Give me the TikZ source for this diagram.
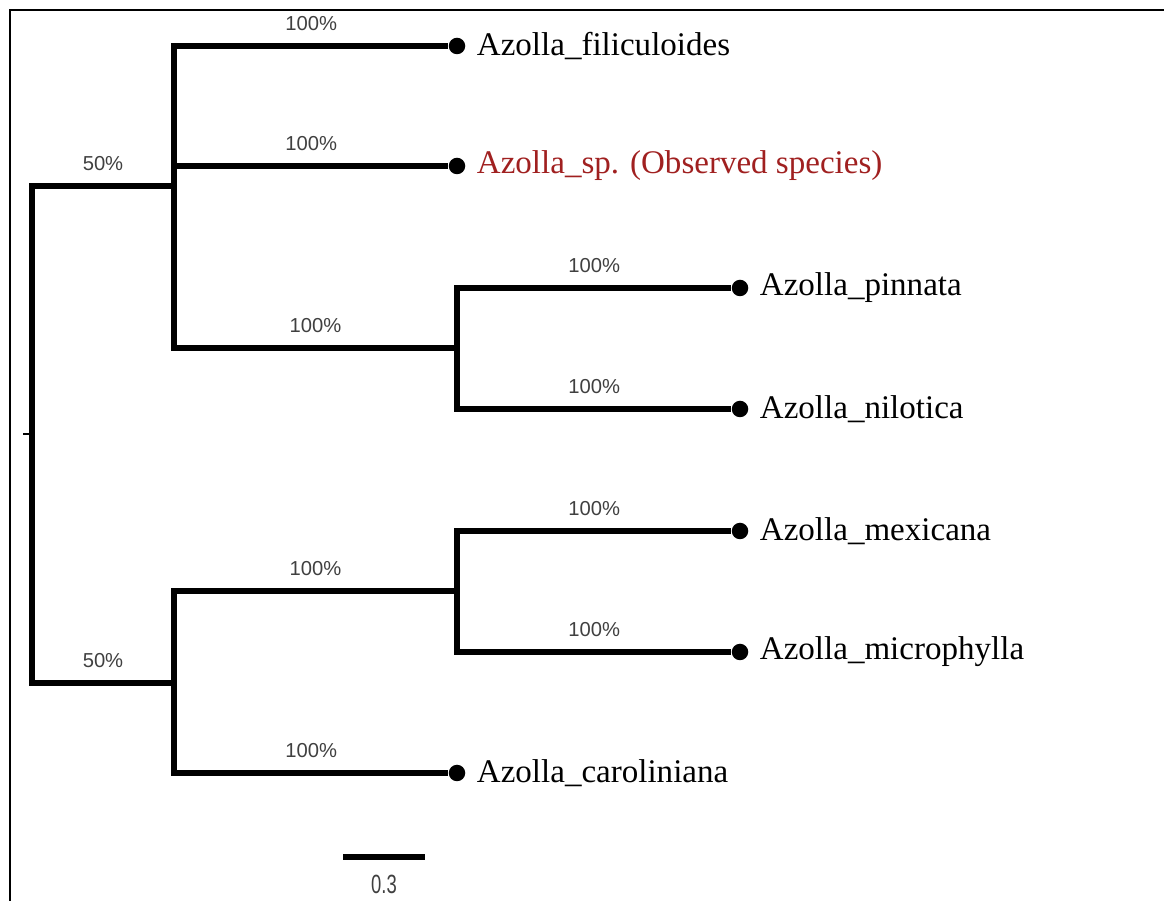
\documentclass[tikz,border=0pt]{standalone}
\usepackage{fontspec}
\setmainfont{Liberation Serif}
\setsansfont{Liberation Sans}
\usetikzlibrary{positioning}

\definecolor{obsred}{RGB}{160,32,32}

\begin{document}
\begin{tikzpicture}[x=0.02cm,y=-0.02cm,
  branch/.style={line width=2.9pt,line join=miter},
  leaf/.style={circle,fill=black,inner sep=0pt,minimum size=0.33cm},
  taxon/.style={inner sep=0pt,font=\fontsize{18.8}{22}\selectfont},
  boot/.style={above=0.25cm,inner sep=0pt,text=black!75,font=\sffamily\fontsize{11.5}{13}\selectfont},
  frameline/.style={line width=1.1pt}]
\useasboundingbox (0,0) rectangle (1164,901);

\draw[frameline] (1164,10) -- (10,10) -- (10,901);

% internal nodes
\coordinate (root) at (32,434);
\coordinate (upper) at (174,186);
\coordinate (lower) at (174,683);
\coordinate (pn) at (457,348);
\coordinate (mm) at (457,591);

% leaves
\foreach \n/\y in {fil/46,sp/166,car/773}
  \node[leaf] (\n) at (457,\y) {};
\foreach \n/\y in {pin/288,nil/409,mex/531,mic/652}
  \node[leaf] (\n) at (740,\y) {};

\node[taxon,right=0.22cm of fil] {Azolla\_filiculoides};
\node[taxon,right=0.22cm of sp,text=obsred] {Azolla\_sp. (Observed species)};
\node[taxon,right=0.22cm of pin] {Azolla\_pinnata};
\node[taxon,right=0.22cm of nil] {Azolla\_nilotica};
\node[taxon,right=0.22cm of mex] {Azolla\_mexicana};
\node[taxon,right=0.22cm of mic] {Azolla\_microphylla};
\node[taxon,right=0.22cm of car] {Azolla\_caroliniana};

% branches
\draw[line width=1.1pt] ([xshift=-0.18cm]root) -- (root);
\draw[branch] (root) |- (upper) node[boot,pos=0.75] {50\%};
\draw[branch] (root) |- (lower) node[boot,pos=0.75] {50\%};
\foreach \t in {fil,sp,pn}
  \draw[branch] (upper) |- (\t) node[boot,pos=0.75] {100\%};
\foreach \t in {mm,car}
  \draw[branch] (lower) |- (\t) node[boot,pos=0.75] {100\%};
\foreach \t in {pin,nil}
  \draw[branch] (pn) |- (\t) node[boot,pos=0.75] {100\%};
\foreach \t in {mex,mic}
  \draw[branch] (mm) |- (\t) node[boot,pos=0.75] {100\%};

% scale bar
\coordinate (sbl) at (343,857);
\coordinate (sbr) at (425,857);
\draw[line width=3.2pt] (sbl) -- (sbr) node[midway,below=0.3cm,inner sep=0pt,xscale=0.7,text=black!75,font=\sffamily\fontsize{15}{17}\selectfont] {0.3};
\end{tikzpicture}
\end{document}
